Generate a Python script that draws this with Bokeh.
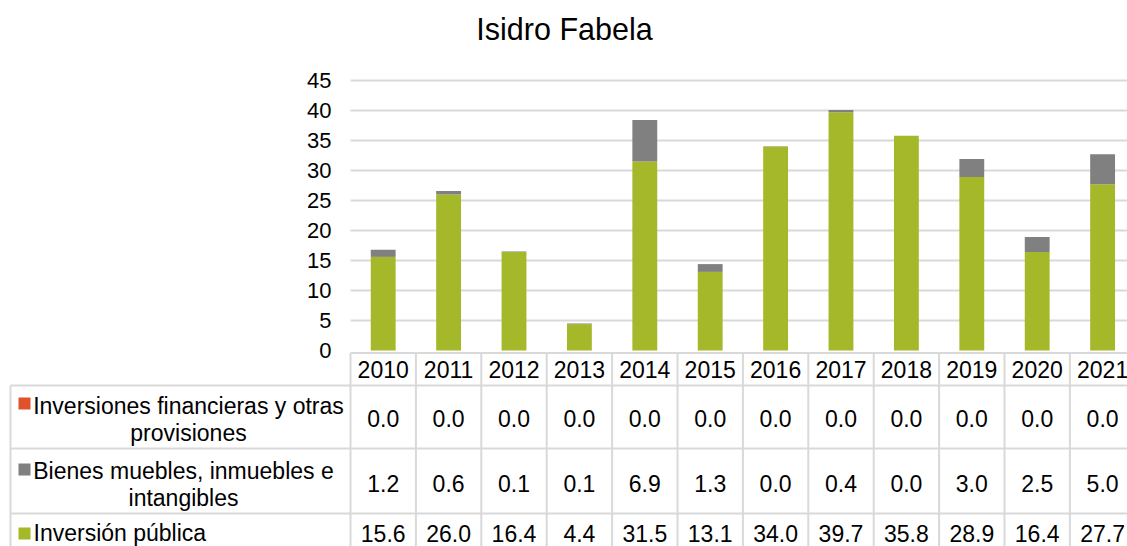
from bokeh.plotting import figure
from bokeh.models import Range1d, LinearAxis, FixedTicker, ColumnDataSource
from bokeh.core.properties import value
from bokeh.embed import file_html
from bokeh.resources import INLINE

# ---------------- data ----------------
title_text = "Isidro Fabela"
years = ["2010", "2011", "2012", "2013", "2014", "2015",
         "2016", "2017", "2018", "2019", "2020", "2021"]
inv_financieras = [0.0, 0.0, 0.0, 0.0, 0.0, 0.0, 0.0, 0.0, 0.0, 0.0, 0.0, 0.0]
bienes = [1.2, 0.6, 0.1, 0.1, 6.9, 1.3, 0.04, 0.4, 0.0, 3.0, 2.5, 5.0]
inv_publica = [15.6, 26.0, 16.4, 4.4, 31.5, 13.1, 34.0, 39.7, 35.8, 28.9, 16.4, 27.7]
series_label_lines = [
    ["Inversiones financieras y otras", "provisiones"],
    ["Bienes muebles, inmuebles e", "intangibles"],
    ["Inversión pública"],
]
series_colors = ["#E0522B", "#808080", "#A5B82A"]
y_ticks = [0, 5, 10, 15, 20, 25, 30, 35, 40, 45]

# ---------------- layout constants ----------------
W, H = 1127, 546
FONT = "Liberation Sans"
PX_PER_X, X0_PX = 65.4, 350.0     # px per category, x of first category edge
PX_PER_Y, Y0_PX = 6.0, 350.0      # px per unit, y of value 0
GRID_COLOR = "#D9D9D9"
n = len(years)

p = figure(width=W, height=H, output_backend="svg", toolbar_location=None,
           x_axis_type=None, y_axis_type=None,
           x_range=Range1d(-X0_PX / PX_PER_X, (W - X0_PX) / PX_PER_X),
           y_range=Range1d(-(H - Y0_PX) / PX_PER_Y, Y0_PX / PX_PER_Y),
           min_border=0, min_border_left=0, min_border_right=0,
           min_border_top=0, min_border_bottom=0)
p.extra_x_ranges = {"px": Range1d(0, W)}
p.extra_y_ranges = {"py": Range1d(H, 0)}
p.outline_line_color = None
p.background_fill_color = "white"
p.border_fill_color = "white"

# gridlines
p.segment(x0=[0] * (len(y_ticks) - 1), x1=[n] * (len(y_ticks) - 1),
          y0=y_ticks[1:], y1=y_ticks[1:], line_color=GRID_COLOR, line_width=2)

# y axis placed at the first category edge
yaxis = LinearAxis(fixed_location=0, bounds=(0, 45), ticker=FixedTicker(ticks=y_ticks))
yaxis.axis_line_color = None
yaxis.major_tick_line_color = None
yaxis.minor_tick_line_color = None
yaxis.major_tick_in = 0
yaxis.major_tick_out = 0
yaxis.major_label_standoff = 19
yaxis.major_label_text_font = FONT
yaxis.major_label_text_font_size = "22px"
yaxis.major_label_text_color = "black"
p.add_layout(yaxis, "left")

# stacked bars
src = ColumnDataSource(dict(x=[i + 0.5 for i in range(n)], pub=inv_publica,
                            bienes=bienes, fin=inv_financieras))
p.vbar_stack(["pub", "bienes", "fin"], x="x", width=0.38, source=src,
             fill_color=[series_colors[2], series_colors[1], series_colors[0]],
             line_color=None)

# ---------------- data table ----------------
T_TOP, T_R1, T_R2, T_R3, T_BOT = 352.5, 385, 448, 513, H
T_LEFT = (10 - X0_PX) / PX_PER_X
p.segment(x0=[0], x1=[n], y0=[T_TOP], y1=[T_TOP], line_color=GRID_COLOR, line_width=2,
          y_range_name="py")
p.segment(x0=[T_LEFT] * 3, x1=[n] * 3, y0=[T_R1, T_R2, T_R3], y1=[T_R1, T_R2, T_R3],
          line_color=GRID_COLOR, line_width=2, y_range_name="py")
p.segment(x0=list(range(n + 1)), x1=list(range(n + 1)), y0=[T_TOP] * (n + 1),
          y1=[T_BOT] * (n + 1), line_color=GRID_COLOR, line_width=2, y_range_name="py")
p.segment(x0=[T_LEFT], x1=[T_LEFT], y0=[T_R1], y1=[T_BOT], line_color=GRID_COLOR,
          line_width=2, y_range_name="py")

txt = dict(text_font=value(FONT), text_font_size=value("23px"), text_color="black",
           text_baseline="middle", y_range_name="py")

# year header
p.text(x=[i + 0.5 for i in range(n)], y=[369] * n, text=years, text_align="center", **txt)

# values
rows = [inv_financieras, bienes, inv_publica]
row_mid = [418.4, 483.4, 533.4]
for vals, ym in zip(rows, row_mid):
    p.text(x=[i + 0.5 for i in range(n)], y=[ym] * n,
           text=[f"{v:.1f}" for v in vals], text_align="center", **txt)

# row labels with legend keys
label_mid = [[405, 432], [470, 497], [532]]
label_x = [188, 183, 33]
label_align = ["center", "center", "left"]
key_y = [403, 469, 533]
for lines, ms, lx, la, ky, col in zip(series_label_lines, label_mid, label_x,
                                       label_align, key_y, series_colors):
    p.text(x=[lx] * len(lines), y=ms, text=lines, text_align=la, x_range_name="px", **txt)
    p.scatter(x=[24], y=[ky], marker="square", size=12, fill_color=col, line_color=None,
              x_range_name="px", y_range_name="py")

# title
p.text(x=[564], y=[28], text=[title_text], text_align="center", x_range_name="px",
       text_font=value(FONT), text_font_size=value("30.5px"), text_color="black",
       text_baseline="middle", y_range_name="py")

open("out.html", "w").write(file_html(p, INLINE))
